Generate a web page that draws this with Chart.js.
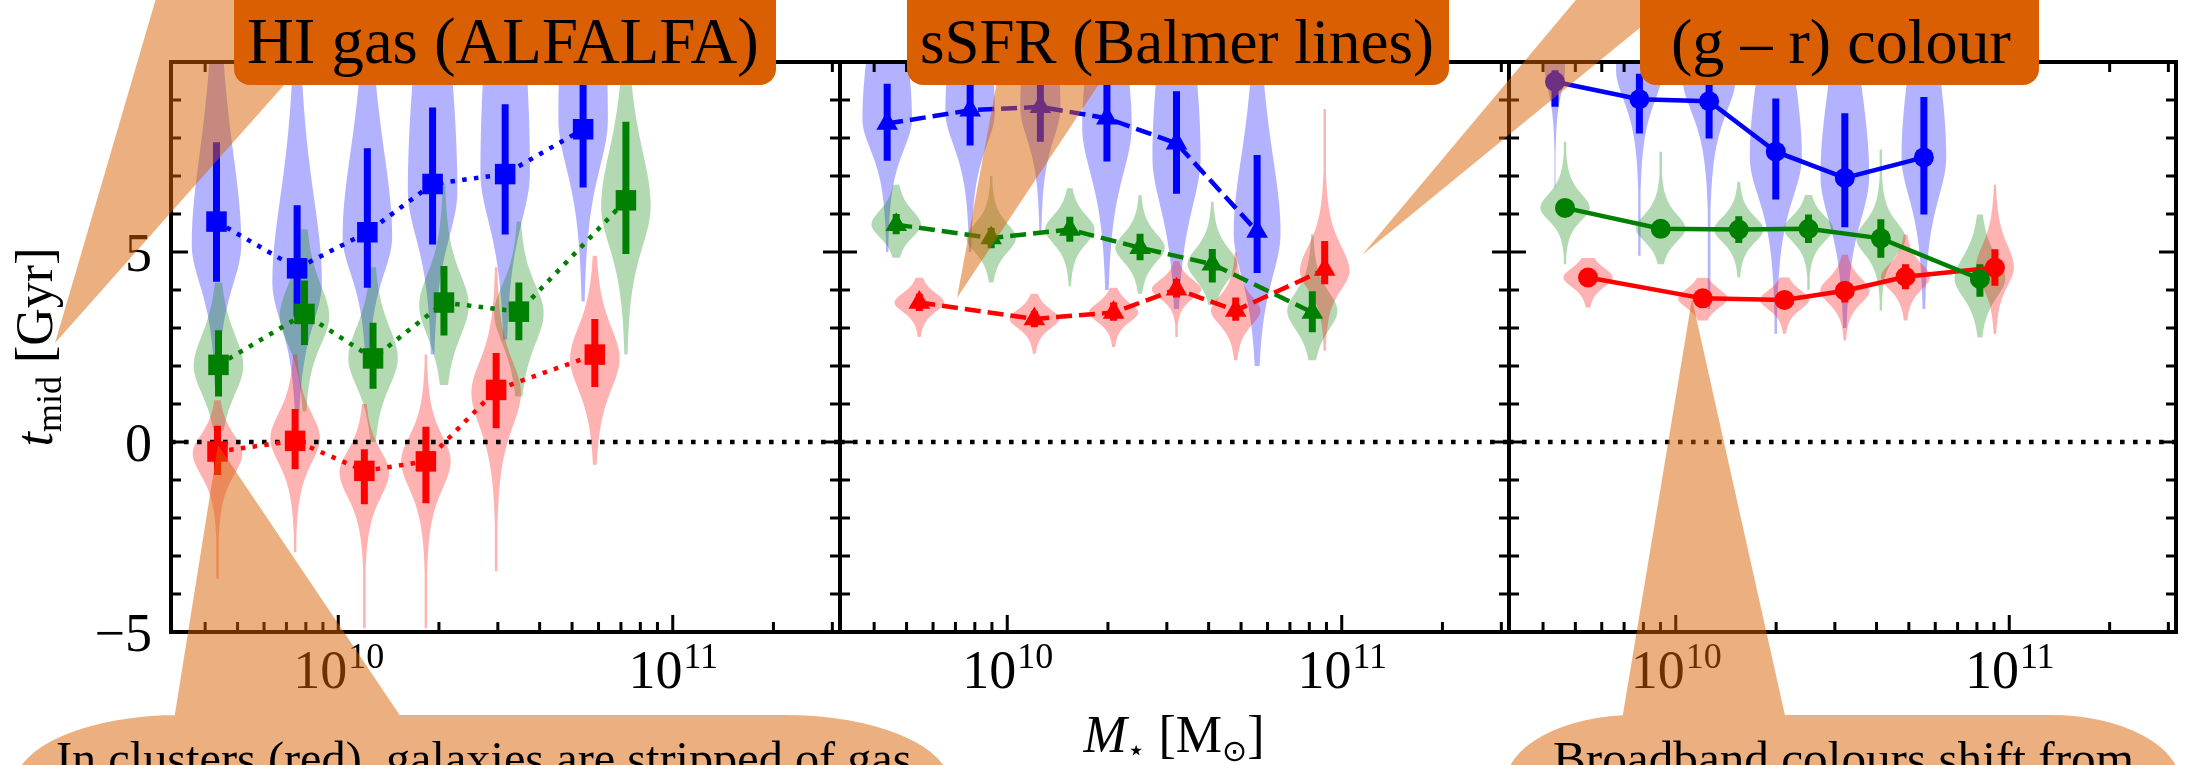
<!DOCTYPE html>
<html>
<head>
<meta charset="utf-8">
<script src="https://cdn.jsdelivr.net/npm/chart.js@4.4.0/dist/chart.umd.min.js"></script>
<style>
html, body { margin: 0; padding: 0; background: #fff; }
#wrap { position: relative; width: 2186px; height: 765px; overflow: hidden; }
canvas { position: absolute; left: 0; top: 0; }
</style>
</head>
<body>
<div id="wrap">
  <canvas id="gasChart" width="2186" height="765"></canvas>
  <canvas id="sfrChart" width="2186" height="765"></canvas>
  <canvas id="colChart" width="2186" height="765"></canvas>
</div>
<script>
// rows: field (blue), groups (green), clusters (red); x values are log10 M*/Msun
const gasLogMass = [
    [9.636, 9.877, 10.087, 10.282, 10.499, 10.732],
    [9.642, 9.899, 10.104, 10.316, 10.540, 10.860],
    [9.639, 9.871, 10.078, 10.262, 10.472, 10.767]
];
const gasTmid = [
    [5.80, 4.57, 5.52, 6.79, 7.05, 8.23],
    [2.03, 3.37, 2.20, 3.67, 3.43, 6.36],
    [-0.25, 0.03, -0.76, -0.51, 1.37, 2.30]
];
const gasLow = [
    [4.22, 3.30, 4.06, 5.20, 5.46, 6.70],
    [1.20, 2.55, 1.40, 2.80, 2.68, 4.95],
    [-0.87, -0.72, -1.64, -1.61, 0.36, 1.45]
];
const gasHigh = [
    [7.89, 6.23, 7.73, 8.80, 8.89, 9.90],
    [2.94, 4.25, 3.14, 4.63, 4.20, 8.43],
    [0.43, 0.87, -0.19, 0.40, 2.34, 3.24]
];
const gasViolinPeak = [
    [5.2, 4.2, 5.4, 6.6, 7.1, 8.5],
    [2.0, 3.3, 2.2, 3.6, 3.4, 6.2],
    [-0.3, 0.1, -0.8, -0.5, 1.3, 2.2]
];
const gasViolinUp = [
    [3.0, 2.8, 2.8, 5.0, 6.0, 6.0],
    [1.0, 1.0, 1.0, 1.0, 0.9, 1.8],
    [0.6, 0.8, 0.7, 0.8, 1.0, 1.0]
];
const gasViolinDown = [
    [1.3, 1.3, 1.2, 1.5, 1.6, 1.6],
    [0.9, 0.9, 0.9, 1.0, 1.0, 1.3],
    [0.7, 0.8, 0.8, 0.9, 1.1, 1.0]
];
const gasViolinMin = [
    [1.5, 0.8, 2.4, 2.3, 2.7, 3.7],
    [0.3, 0.8, 0.0, 1.5, 1.2, 2.3],
    [-3.6, -2.9, -4.9, -4.9, -3.4, -0.6]
];
const gasViolinMax = [
    [10.5, 10.5, 10.5, 10.5, 10.5, 10.5],
    [4.2, 5.6, 4.6, 6.8, 5.8, 9.4],
    [1.1, 2.3, 1.0, 2.3, 4.6, 4.9]
];
const gasViolinWidth = [
    [0.074, 0.074, 0.074, 0.074, 0.074, 0.074],
    [0.074, 0.074, 0.074, 0.074, 0.074, 0.074],
    [0.074, 0.074, 0.074, 0.074, 0.074, 0.074]
];

const sfrLogMass = [
    [9.641, 9.889, 10.099, 10.298, 10.506, 10.747],
    [9.668, 9.952, 10.187, 10.397, 10.613, 10.912],
    [9.737, 10.081, 10.318, 10.506, 10.683, 10.949]
];
const sfrTmid = [
    [8.38, 8.73, 8.82, 8.52, 7.86, 5.54],
    [5.72, 5.37, 5.59, 5.11, 4.68, 3.41],
    [3.67, 3.24, 3.41, 4.02, 3.46, 4.54]
];
const sfrLow = [
    [7.40, 7.80, 7.90, 7.38, 6.53, 4.45],
    [5.47, 5.10, 5.27, 4.78, 4.20, 2.89],
    [3.45, 3.02, 3.19, 3.80, 3.19, 4.15]
];
const sfrHigh = [
    [9.43, 9.60, 9.70, 9.60, 9.23, 7.55],
    [6.00, 5.63, 5.93, 5.48, 5.08, 3.97],
    [3.90, 3.45, 3.67, 4.29, 3.80, 5.29]
];
const sfrViolinPeak = [
    [8.5, 8.7, 8.8, 8.3, 7.5, 5.5],
    [5.72, 5.37, 5.59, 5.11, 4.68, 3.45],
    [3.67, 3.24, 3.41, 4.02, 3.46, 4.5]
];
const sfrViolinUp = [
    [3.0, 3.0, 3.0, 3.0, 4.0, 2.5],
    [0.45, 0.45, 0.45, 0.45, 0.5, 0.6],
    [0.3, 0.3, 0.3, 0.3, 0.45, 0.8]
];
const sfrViolinDown = [
    [1.0, 1.1, 1.0, 1.5, 1.6, 1.4],
    [0.4, 0.45, 0.45, 0.45, 0.5, 0.6],
    [0.3, 0.3, 0.3, 0.3, 0.45, 0.6]
];
const sfrViolinMin = [
    [5.0, 5.0, 5.5, 4.0, 3.5, 2.0],
    [4.85, 4.2, 4.1, 3.9, 3.6, 2.15],
    [2.76, 2.32, 2.5, 2.76, 2.15, 2.4]
];
const sfrViolinMax = [
    [10.5, 10.5, 10.5, 10.5, 10.5, 9.5],
    [6.78, 7.0, 6.68, 6.5, 6.33, 5.47],
    [4.33, 3.9, 4.07, 4.76, 5.0, 8.77]
];
const sfrViolinWidth = [
    [0.074, 0.074, 0.06, 0.074, 0.072, 0.07],
    [0.074, 0.074, 0.074, 0.074, 0.074, 0.075],
    [0.074, 0.074, 0.074, 0.074, 0.074, 0.074]
];

const colLogMass = [
    [9.638, 9.891, 10.100, 10.300, 10.507, 10.744],
    [9.668, 9.955, 10.189, 10.398, 10.615, 10.912],
    [9.737, 10.081, 10.326, 10.507, 10.689, 10.957]
];
const colTmid = [
    [9.48, 9.02, 8.97, 7.64, 6.95, 7.49],
    [6.16, 5.61, 5.59, 5.61, 5.36, 4.29],
    [4.33, 3.78, 3.74, 3.98, 4.35, 4.59]
];
const colLow = [
    [8.82, 8.12, 7.99, 6.38, 5.65, 5.99],
    [5.95, 5.40, 5.24, 5.24, 4.85, 3.82],
    [4.15, 3.60, 3.58, 3.67, 4.02, 4.11]
];
const colHigh = [
    [9.78, 9.69, 9.40, 9.04, 8.65, 9.08],
    [6.35, 5.80, 5.94, 5.99, 5.86, 4.68],
    [4.50, 3.95, 3.90, 4.20, 4.68, 5.07]
];
const colViolinPeak = [
    [9.8, 9.8, 9.6, 7.5, 7.0, 7.5],
    [6.16, 5.61, 5.59, 5.61, 5.36, 4.3],
    [4.33, 3.78, 3.74, 3.98, 4.35, 4.6]
];
const colViolinUp = [
    [3.0, 3.0, 3.0, 3.0, 3.0, 3.0],
    [0.45, 0.45, 0.4, 0.4, 0.5, 0.7],
    [0.3, 0.3, 0.3, 0.4, 0.4, 0.7]
];
const colViolinDown = [
    [0.7, 1.0, 1.1, 1.3, 1.4, 1.3],
    [0.4, 0.4, 0.4, 0.4, 0.5, 0.6],
    [0.3, 0.3, 0.3, 0.4, 0.4, 0.6]
];
const colViolinMin = [
    [6.7, 4.9, 3.5, 2.85, 3.0, 3.5],
    [4.68, 4.68, 4.33, 4.0, 3.46, 2.75],
    [3.54, 3.2, 2.85, 2.67, 3.2, 2.85]
];
const colViolinMax = [
    [10.5, 10.5, 10.5, 10.5, 10.5, 10.5],
    [7.9, 7.64, 6.85, 6.5, 7.7, 6.0],
    [4.85, 4.33, 4.33, 4.93, 5.47, 6.77]
];
const colViolinWidth = [
    [0.03, 0.07, 0.08, 0.078, 0.073, 0.067],
    [0.074, 0.074, 0.074, 0.074, 0.074, 0.076],
    [0.074, 0.074, 0.074, 0.074, 0.074, 0.057]
];

// axes
const massMin = 10 ** 9.5;
const massMax = 10 ** 11.5;
const yMajor = [-5, 0, 5, 10];
const yMinor = [-4, -3, -2, -1, 1, 2, 3, 4, 6, 7, 8, 9];
const yTickLabels = ['\u22125', '0', '5'];
const xMajor = [1e10, 1e11];
const xTickExponents = ['10', '11'];
const xMinor = [4e9, 5e9, 6e9, 7e9, 8e9, 9e9, 2e10, 3e10, 4e10, 5e10, 6e10, 7e10, 8e10, 9e10, 2e11, 3e11];

const colours = ['#0000ff', '#008000', '#ff0000'];
const violinFill = ['rgba(0,0,255,0.3)', 'rgba(0,128,0,0.3)', 'rgba(255,0,0,0.3)'];
const serif = '"Liberation Serif", "DejaVu Serif", serif';

function violinHalfWidth(v, peak, up, down, w) {
    const s = v > peak ? up : down;
    const d = (v - peak) / s;
    return Math.max(w * Math.pow(1 + d * d / 3, -2), w * 0.05);
}

function drawViolins(chart, p) {
    const { ctx, scales: { x, y } } = chart;
    for (let s = 0; s < 3; s++) {
        for (let i = 0; i < p.logMass[s].length; i++) {
            const lm = p.logMass[s][i];
            const lo = p.vMin[s][i], hi = p.vMax[s][i];
            const right = [], left = [];
            for (let v = lo; v <= hi + 1e-9; v += 0.02) {
                const h = violinHalfWidth(v, p.vPeak[s][i], p.vUp[s][i], p.vDown[s][i], p.vWidth[s][i]);
                const py = y.getPixelForValue(v);
                right.push([x.getPixelForValue(10 ** (lm + h)), py]);
                left.push([x.getPixelForValue(10 ** (lm - h)), py]);
            }
            ctx.beginPath();
            right.forEach(([px, py], k) => k ? ctx.lineTo(px, py) : ctx.moveTo(px, py));
            left.reverse().forEach(([px, py]) => ctx.lineTo(px, py));
            ctx.closePath();
            ctx.fillStyle = violinFill[s];
            ctx.fill();
        }
    }
}

function drawFrame(chart, withYLabels) {
    const { ctx, chartArea: a, scales: { x, y } } = chart;
    ctx.save();
    ctx.strokeStyle = '#000';
    ctx.lineWidth = 3;
    ctx.beginPath();
    yMajor.concat(yMinor).forEach(v => {
        const len = yMajor.includes(v) ? 17 : 10;
        const py = y.getPixelForValue(v);
        ctx.moveTo(a.left, py); ctx.lineTo(a.left + len, py);
        ctx.moveTo(a.right, py); ctx.lineTo(a.right - len, py);
    });
    xMajor.concat(xMinor).forEach(v => {
        const len = xMajor.includes(v) ? 17 : 10;
        const px = x.getPixelForValue(v);
        ctx.moveTo(px, a.bottom); ctx.lineTo(px, a.bottom - len);
        ctx.moveTo(px, a.top); ctx.lineTo(px, a.top + len);
    });
    ctx.stroke();
    ctx.lineWidth = 4;
    ctx.strokeRect(a.left, a.top, a.right - a.left, a.bottom - a.top);

    ctx.fillStyle = '#000';
    ctx.textBaseline = 'alphabetic';
    xMajor.forEach((v, k) => {
        const px = x.getPixelForValue(v);
        ctx.font = '54px ' + serif;
        const wb = ctx.measureText('10').width;
        ctx.font = '36px ' + serif;
        const we = ctx.measureText(xTickExponents[k]).width;
        const x0 = px - (wb + we) / 2;
        ctx.font = '54px ' + serif;
        ctx.fillText('10', x0, a.bottom + 56);
        ctx.font = '36px ' + serif;
        ctx.fillText(xTickExponents[k], x0 + wb + 1, a.bottom + 36);
    });
    if (withYLabels) {
        ctx.font = '54px ' + serif;
        ctx.textAlign = 'right';
        yTickLabels.forEach((t, k) => {
            ctx.fillText(t, a.left - 19, y.getPixelForValue(yMajor[k]) + 19);
        });
    }
    ctx.restore();
}

function panelPlugin(p) {
    return {
        id: 'panel_' + p.name,
        beforeDatasetsDraw(chart) {
            const { ctx, chartArea: a, scales: { x, y } } = chart;
            ctx.save();
            ctx.beginPath();
            ctx.rect(a.left, a.top, a.right - a.left, a.bottom - a.top);
            ctx.clip();
            drawViolins(chart, p);

            // zero line
            ctx.strokeStyle = '#000';
            ctx.lineWidth = 4.5;
            ctx.setLineDash([4.6, 8.4]);
            ctx.beginPath();
            ctx.moveTo(a.left, y.getPixelForValue(0));
            ctx.lineTo(a.right, y.getPixelForValue(0));
            ctx.stroke();
            ctx.setLineDash([]);

            // error bars
            ctx.lineWidth = 7;
            for (let s = 0; s < 3; s++) {
                ctx.strokeStyle = colours[s];
                ctx.beginPath();
                p.logMass[s].forEach((lm, i) => {
                    const px = x.getPixelForValue(10 ** lm);
                    ctx.moveTo(px, y.getPixelForValue(p.low[s][i]));
                    ctx.lineTo(px, y.getPixelForValue(p.high[s][i]));
                });
                ctx.stroke();
            }
            ctx.restore();
        },
        afterDraw(chart) {
            drawFrame(chart, p.yLabels);
        }
    };
}

function roundedTop(ctx, x0, x1, top, rx, ry) {
    ctx.moveTo(x0, 900);
    ctx.lineTo(x0, top + ry);
    ctx.ellipse(x0 + rx, top + ry, rx, ry, 0, Math.PI, 1.5 * Math.PI);
    ctx.lineTo(x1 - rx, top);
    ctx.ellipse(x1 - rx, top + ry, rx, ry, 0, 1.5 * Math.PI, 2 * Math.PI);
    ctx.lineTo(x1, 900);
    ctx.closePath();
}

function fitFont(ctx, text, width) {
    ctx.font = '100px ' + serif;
    return 100 * width / ctx.measureText(text).width;
}

function drawPieces(ctx, pieces, cx, baseY) {
    let total = 0;
    pieces.forEach(pc => { ctx.font = pc.font; pc.w = ctx.measureText(pc.t).width; total += pc.w; });
    let px = cx - total / 2;
    pieces.forEach(pc => {
        ctx.font = pc.font;
        ctx.fillText(pc.t, px, baseY + (pc.dy || 0));
        px += pc.w;
    });
}

const overlayPlugin = {
    id: 'overlay',
    afterDraw(chart) {
        const ctx = chart.ctx;
        ctx.save();
        ctx.fillStyle = '#000';
        ctx.textAlign = 'left';
        ctx.textBaseline = 'alphabetic';

        // axis titles
        drawPieces(ctx, [
            { t: 'M', font: 'italic 52px ' + serif },
            { t: '\u22c6', font: '30px "DejaVu Sans", sans-serif', dy: 8 },
            { t: ' [M', font: '52px ' + serif },
            { t: '\u2299', font: '30px "DejaVu Sans", sans-serif', dy: 9 },
            { t: ']', font: '52px ' + serif }
        ], 1174, 752);
        ctx.save();
        ctx.translate(52, 347);
        ctx.rotate(-Math.PI / 2);
        drawPieces(ctx, [
            { t: 't', font: 'italic 52px ' + serif },
            { t: 'mid', font: '36px ' + serif, dy: 9 },
            { t: ' [Gyr]', font: '52px ' + serif }
        ], 0, 0);
        ctx.restore();

        // callout tails and bubbles
        ctx.fillStyle = 'rgba(217,95,2,0.5)';
        [[[157, -5], [364, -5], [55, 343]],
         [[1013, -5], [1158, -5], [957, 298]],
         [[1580, -5], [1680, -5], [1362, 255]]].forEach(tri => {
            ctx.beginPath();
            ctx.moveTo(tri[0][0], tri[0][1]);
            ctx.lineTo(tri[1][0], tri[1][1]);
            ctx.lineTo(tri[2][0], tri[2][1]);
            ctx.closePath();
            ctx.fill();
        });
        [{ x0: 15, x1: 950, rx: 165, apex: [218, 445], base: [174, 403] },
         { x0: 1505, x1: 2181, rx: 130, apex: [1692, 299], base: [1622, 1786] }].forEach(b => {
            ctx.beginPath();
            roundedTop(ctx, b.x0, b.x1, 715, b.rx, 70);
            ctx.moveTo(b.apex[0], b.apex[1]);
            ctx.lineTo(b.base[1], 720);
            ctx.lineTo(b.base[0], 720);
            ctx.closePath();
            ctx.fill('nonzero');
        });

        // bubble texts (cut by the bottom edge)
        ctx.fillStyle = '#000';
        [{ t: 'In clusters (red), galaxies are stripped of gas', x0: 56, x1: 912 },
         { t: 'Broadband colours shift from', x0: 1553, x1: 2134 }].forEach(b => {
            const size = fitFont(ctx, b.t, b.x1 - b.x0);
            ctx.font = size + 'px ' + serif;
            ctx.fillText(b.t, b.x0, 743 + 0.66 * size);
        });

        // panel title boxes
        [{ x0: 234, x1: 776, t: 'HI gas (ALFALFA)', tx0: 247, tx1: 759 },
         { x0: 907, x1: 1449, t: 'sSFR (Balmer lines)', tx0: 920, tx1: 1434 },
         { x0: 1640, x1: 2039, t: '(g \u2013 r) colour', tx0: 1671, tx1: 2011 }].forEach(b => {
            ctx.fillStyle = '#d95f02';
            ctx.beginPath();
            ctx.roundRect(b.x0, -30, b.x1 - b.x0, 115, 16);
            ctx.fill();
            const size = fitFont(ctx, b.t, b.tx1 - b.tx0);
            ctx.font = size + 'px ' + serif;
            ctx.fillStyle = '#000';
            ctx.fillText(b.t, b.tx0, 63);
        });
        ctx.restore();
    }
};

function makePanel(id, p, left, right, extraPlugins) {
    const datasets = [0, 1, 2].map(s => ({
        data: p.logMass[s].map((lm, i) => ({ x: 10 ** lm, y: p.tmid[s][i] })),
        borderColor: colours[s],
        backgroundColor: colours[s],
        pointBackgroundColor: colours[s],
        borderWidth: 4.5,
        borderDash: p.dash,
        borderCapStyle: 'butt',
        pointStyle: p.marker,
        pointRadius: p.radius,
        pointHoverRadius: p.radius,
        pointBorderWidth: 0,
        tension: 0,
        fill: false
    }));
    return new Chart(document.getElementById(id), {
        type: 'line',
        data: { datasets },
        options: {
            responsive: false,
            animation: false,
            events: [],
            layout: { padding: { left: left, right: 2186 - right, top: 62, bottom: 765 - 632 } },
            plugins: { legend: { display: false }, tooltip: { enabled: false } },
            scales: {
                x: { type: 'logarithmic', min: massMin, max: massMax, bounds: 'data', display: false },
                y: { type: 'linear', min: -5, max: 10, display: false }
            }
        },
        plugins: [panelPlugin(p)].concat(extraPlugins || [])
    });
}

makePanel('gasChart', {
    name: 'gas', yLabels: true, marker: 'rect', radius: 14.5, dash: [4.5, 7.3],
    logMass: gasLogMass, tmid: gasTmid, low: gasLow, high: gasHigh,
    vPeak: gasViolinPeak, vUp: gasViolinUp, vDown: gasViolinDown,
    vMin: gasViolinMin, vMax: gasViolinMax, vWidth: gasViolinWidth
}, 171, 840);

makePanel('sfrChart', {
    name: 'sfr', yLabels: false, marker: 'triangle', radius: 12.5, dash: [16, 7],
    logMass: sfrLogMass, tmid: sfrTmid, low: sfrLow, high: sfrHigh,
    vPeak: sfrViolinPeak, vUp: sfrViolinUp, vDown: sfrViolinDown,
    vMin: sfrViolinMin, vMax: sfrViolinMax, vWidth: sfrViolinWidth
}, 840, 1509);

makePanel('colChart', {
    name: 'col', yLabels: false, marker: 'circle', radius: 10, dash: [],
    logMass: colLogMass, tmid: colTmid, low: colLow, high: colHigh,
    vPeak: colViolinPeak, vUp: colViolinUp, vDown: colViolinDown,
    vMin: colViolinMin, vMax: colViolinMax, vWidth: colViolinWidth
}, 1509, 2177, [overlayPlugin]);
</script>
</body>
</html>
